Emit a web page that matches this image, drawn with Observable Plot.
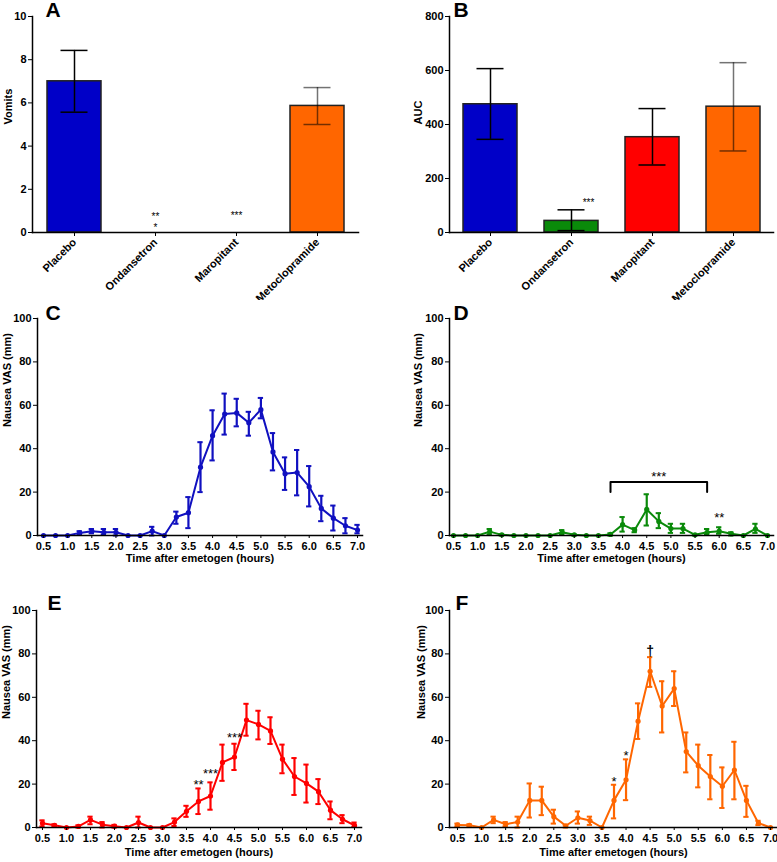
<!DOCTYPE html>
<html><head><meta charset="utf-8">
<script src="https://cdn.jsdelivr.net/npm/d3@7"></script>
<script src="https://cdn.jsdelivr.net/npm/@observablehq/plot@0.6"></script>
<style>
body{margin:0;background:#fff;}
#root{position:relative;width:777px;height:862px;overflow:hidden;background:#fff;}
.panel{position:absolute;}
.panel svg{display:block;max-width:none;}
</style></head><body><div id="root"></div>
<script>
// ---------- data ----------
const drugs = ["Placebo", "Ondansetron", "Maropitant", "Metoclopramide"];
const vomitsMean = [7.0, 0, 0, 5.86];
const vomitsLow  = [5.57, 0, 0, 5.0];
const vomitsHigh = [8.43, 0, 0, 6.71];
const aucMean = [475, 43, 353, 466];
const aucLow  = [345, 7, 250, 302];
const aucHigh = [607, 84, 459, 629];
const vomitTicks = [0, 2, 4, 6, 8, 10];
const aucTicks = [0, 200, 400, 600, 800];

const times = [0.5,0.75,1.0,1.25,1.5,1.75,2.0,2.25,2.5,2.75,3.0,3.25,3.5,3.75,4.0,4.25,4.5,4.75,5.0,5.25,5.5,5.75,6.0,6.25,6.5,6.75,7.0];
const timeTicks = [0.5,1.0,1.5,2.0,2.5,3.0,3.5,4.0,4.5,5.0,5.5,6.0,6.5,7.0];
const vasTicks = [0, 20, 40, 60, 80, 100];

const placeboMean = [0,0,0,1.2,2,1.5,1.5,0,0,2,0,8.5,10.5,31.5,46,56,56.5,52,58,38.5,28.5,29,22.5,12.5,8,4.5,2.5];
const placeboLow  = [0,0,0,0.5,1,0.5,0,0,0,0,0,5.4,3.4,20,34.6,46.5,50.3,46,54,30,21,18.5,13.4,6.6,2.3,1,1];
const placeboHigh = [0,0,0,2,3,3,3,0,0,4,0,11,17.7,43,57.7,65.4,63,57,63.4,47.2,36,39.4,32,18.3,13.8,8,4.9];

const ondansetronMean = [0,0,0,1.8,0.3,0,0,0,0,1.5,0.3,0,0,0.5,5,2.5,12,6.5,3.2,3.2,0.3,1.5,2,0.8,0,3,0];
const ondansetronLow  = [0,0,0,0.6,0,0,0,0,0,0.5,0,0,0,0,1.8,1.5,4.6,3.4,1.2,1.2,0,0.5,0.8,0,0,1.2,0];
const ondansetronHigh = [0,0,0,3,0.6,0,0,0,0,2.5,0.6,0,0,1,8.5,3.4,19,10.3,5.4,5.4,0.6,3,3.8,1.5,0,5.4,0];

const maropitantMean = [2,1,0,0.5,3.5,1.3,0.6,0,2.3,0,0,2.5,7.5,12,14.5,30,32.5,49.5,47.5,44.5,31.5,23.5,20.3,16.5,8,3.8,1];
const maropitantLow  = [0.5,0.5,0,0,1.5,0,0,0,0,0,0,0.7,4.9,6.2,8.2,21.5,26.5,42.3,40.6,38.5,25,15,11.5,10.8,3.8,2,0.3];
const maropitantHigh = [3.3,1.5,0,1,5,2.5,1.2,0,5,0,0,4.2,10,18,20.8,38.2,38.6,57,53.8,50.8,38.2,32,29,22.3,12,5.7,2.3];

const metoclopramideMean = [1.2,1,0,3.5,1.5,2.5,12.5,12.5,5,0.8,4.5,3.2,0,12.5,22,49,72,56,64,35,28.5,23.5,19,26.5,12.5,2,0];
const metoclopramideLow  = [0.5,0.5,0,2,0.5,0,4.6,5.7,1.8,0,1.8,1.2,0,4.2,12.6,40.8,64.8,43.8,56,25.4,18.5,13,9,13,4.9,1.1,0];
const metoclopramideHigh = [1.8,1.5,0,5,2.5,5,20.3,18.8,8.2,1.2,7.4,5,0,19.7,31.4,57.2,78.5,67.4,72,43.8,38.2,33.4,27.7,39.5,19.2,3.1,0];

// significance annotations (value units)
const notesA = [{name:"Ondansetron", v:0.83, s:"**"}, {name:"Ondansetron", v:0.3, s:"*"}, {name:"Maropitant", v:0.85, s:"***"}];
const notesB = [{name:"Ondansetron", v:118, s:"***"}];
const notesD = [{t:4.75, v:28.5, s:"***"}, {t:6.0, v:9.5, s:"**"}];
const bracketD = [{t:3.75, v:20}, {t:3.75, v:24.6}, {t:5.75, v:24.6}, {t:5.75, v:20}];
const notesE = [{t:3.75, v:21, s:"**"}, {t:4.0, v:26, s:"***"}, {t:4.5, v:42.5, s:"***"}];
const notesF = [{t:3.75, v:22.5, s:"*"}, {t:4.0, v:34.5, s:"*"}];
const daggerF = [{t:4.5, v:81.3, s:"†"}];

// ---------- styles ----------
const FONT = '"Liberation Sans", Arial, Helvetica, sans-serif';
const drugColors = ["#0000C8", "#0A8A0A", "#FF0000", "#FF6600"];
const errOpacity = {Placebo: 1, Ondansetron: 1, Maropitant: 1, Metoclopramide: 0.55};
const root = document.getElementById("root");

function place(svg, left, top) {
  const d = document.createElement("div");
  d.className = "panel";
  d.style.left = left + "px";
  d.style.top = top + "px";
  d.appendChild(svg);
  root.appendChild(d);
}

function baseStyle() {
  return {fontFamily: FONT, fontSize: "11px", fontWeight: "bold", color: "#000", background: "#fff"};
}

function barPanel({mean, low, high, ticks, domain, ylabel, letter, notes, noteDx, width, ml, mr, ylabelDx, letterDx}) {
  const rows = drugs.map((name, i) => ({name, m: mean[i], lo: low[i], hi: high[i]}));
  const errs = rows.filter(d => d.hi > d.lo);
  return Plot.plot({
    width, height: 300, marginLeft: ml, marginRight: mr, marginTop: 16, marginBottom: 68,
    style: baseStyle(),
    x: {domain: drugs, paddingInner: 0.337, paddingOuter: 0.168},
    y: {domain},
    color: {domain: drugs, range: drugColors},
    marks: [
      Plot.barY(rows, {x: "name", y: "m", fill: "name", stroke: "#222", strokeWidth: 1.5}),
      Plot.ruleX(errs, {x: "name", y1: "lo", y2: "hi", stroke: "#000", strokeWidth: 1.5, strokeOpacity: d => errOpacity[d.name]}),
      Plot.tickY(errs, {x: "name", y: "hi", insetLeft: 13.5, insetRight: 13.5, stroke: "#000", strokeWidth: 1.5, strokeOpacity: d => errOpacity[d.name]}),
      Plot.tickY(errs, {x: "name", y: "lo", insetLeft: 13.5, insetRight: 13.5, stroke: "#000", strokeWidth: 1.5, strokeOpacity: d => errOpacity[d.name]}),
      Plot.text(notes, {x: "name", y: "v", text: "s", dx: noteDx, dy: 2, fontSize: 10, fontWeight: "normal"}),
      Plot.frame({anchor: "left", stroke: "#000", strokeWidth: 1.5}),
      Plot.frame({anchor: "bottom", stroke: "#000", strokeWidth: 1.5}),
      Plot.axisY({ticks, tickSize: 4, tickPadding: 2, label: null}),
      Plot.axisX({tickRotate: -45, tickSize: 4, tickPadding: 4, label: null}),
      Plot.text([ylabel], {frameAnchor: "left", rotate: -90, dx: ylabelDx, fontSize: 11}),
      Plot.text([letter], {frameAnchor: "top-left", dx: letterDx, dy: -14, fontSize: 21, textAnchor: "start", lineAnchor: "top"})
    ]
  });
}

function timePanel({mean, low, high, color, width, height, ml, mr, mt, mb, xDomain, letter, notes, dagger, bracket, ylabelDx, letterDx, letterDy, titleDy}) {
  const rows = times.map((t, i) => ({t, m: mean[i], lo: low[i], hi: high[i]}));
  const errs = rows.filter(d => d.hi > d.lo);
  const cap = 0.055;
  const marks = [
    Plot.line(rows, {x: "t", y: "m", stroke: color, strokeWidth: 2}),
    Plot.ruleX(errs, {x: "t", y1: "lo", y2: "hi", stroke: color, strokeWidth: 2.2}),
    Plot.ruleY(errs, {y: "hi", x1: d => d.t - cap, x2: d => d.t + cap, stroke: color, strokeWidth: 2}),
    Plot.ruleY(errs, {y: "lo", x1: d => d.t - cap, x2: d => d.t + cap, stroke: color, strokeWidth: 2}),
    Plot.dot(rows, {x: "t", y: "m", r: 2.6, fill: color, stroke: null}),
    Plot.frame({anchor: "left", stroke: "#000", strokeWidth: 1.5}),
    Plot.frame({anchor: "bottom", stroke: "#000", strokeWidth: 1.5}),
    Plot.axisY({ticks: vasTicks, tickSize: 4, tickPadding: 2, label: null}),
    Plot.axisX({ticks: timeTicks, tickFormat: d3.format(".1f"), tickSize: 3, tickPadding: 4, label: null}),
    Plot.text(["Nausea VAS (mm)"], {frameAnchor: "left", rotate: -90, dx: ylabelDx, fontSize: 11}),
    Plot.text(["Time after emetogen (hours)"], {frameAnchor: "bottom", dy: titleDy, fontSize: 11}),
    Plot.text([letter], {frameAnchor: "top-left", dx: letterDx, dy: letterDy, fontSize: 21, textAnchor: "start", lineAnchor: "top"})
  ];
  if (bracket) marks.push(Plot.line(bracket, {x: "t", y: "v", stroke: "#000", strokeWidth: 2}));
  if (notes) marks.push(Plot.text(notes, {x: "t", y: "v", text: "s", dy: 3, fontSize: 13, fontWeight: "normal"}));
  if (dagger) marks.push(Plot.text(dagger, {x: "t", y: "v", text: "s", dy: 0, fontSize: 14, fontWeight: "bold", fill: "#000"}));
  return Plot.plot({
    width, height, marginLeft: ml, marginRight: mr, marginTop: mt, marginBottom: mb,
    style: baseStyle(),
    x: {domain: xDomain},
    y: {domain: [0, 100]},
    marks
  });
}

place(timePanel({mean: placeboMean, low: placeboLow, high: placeboHigh, color: "#1010C0",
  width: 388, height: 270, ml: 37, mr: 26, mt: 18, mb: 35, xDomain: [0.376, 7.103],
  letter: "C", ylabelDx: -30, letterDx: 8, letterDy: -13, titleDy: 26}), 0, 300);
place(timePanel({mean: ondansetronMean, low: ondansetronLow, high: ondansetronHigh, color: "#0A8A0A",
  width: 389, height: 270, ml: 61, mr: 4, mt: 18, mb: 35, xDomain: [0.417, 7.124],
  letter: "D", notes: notesD, bracket: bracketD, ylabelDx: -31, letterDx: 4, letterDy: -13, titleDy: 26}), 388, 300);
place(timePanel({mean: maropitantMean, low: maropitantLow, high: maropitantHigh, color: "#FF0000",
  width: 388, height: 292, ml: 36, mr: 27, mt: 40, mb: 35, xDomain: [0.375, 7.146],
  letter: "E", notes: notesE, ylabelDx: -30, letterDx: 11, letterDy: -15, titleDy: 28}), 0, 570);
place(timePanel({mean: metoclopramideMean, low: metoclopramideLow, high: metoclopramideHigh, color: "#FF6600",
  width: 389, height: 292, ml: 61, mr: 0, mt: 40, mb: 35, xDomain: [0.334, 7.145],
  letter: "F", notes: notesF, dagger: daggerF, ylabelDx: -28, letterDx: 6, letterDy: -15, titleDy: 28}), 388, 570);

place(barPanel({mean: vomitsMean, low: vomitsLow, high: vomitsHigh, ticks: vomitTicks, domain: [0, 10],
  ylabel: "Vomits", letter: "A", notes: notesA, noteDx: 0, width: 388, ml: 32, mr: 30, ylabelDx: -24.5, letterDx: 13}), 0, 0);
place(barPanel({mean: aucMean, low: aucLow, high: aucHigh, ticks: aucTicks, domain: [0, 800],
  ylabel: "AUC", letter: "B", notes: notesB, noteDx: 17, width: 389, ml: 61, mr: 4, ylabelDx: -31.5, letterDx: 4}), 388, 0);
</script>
</body></html>
